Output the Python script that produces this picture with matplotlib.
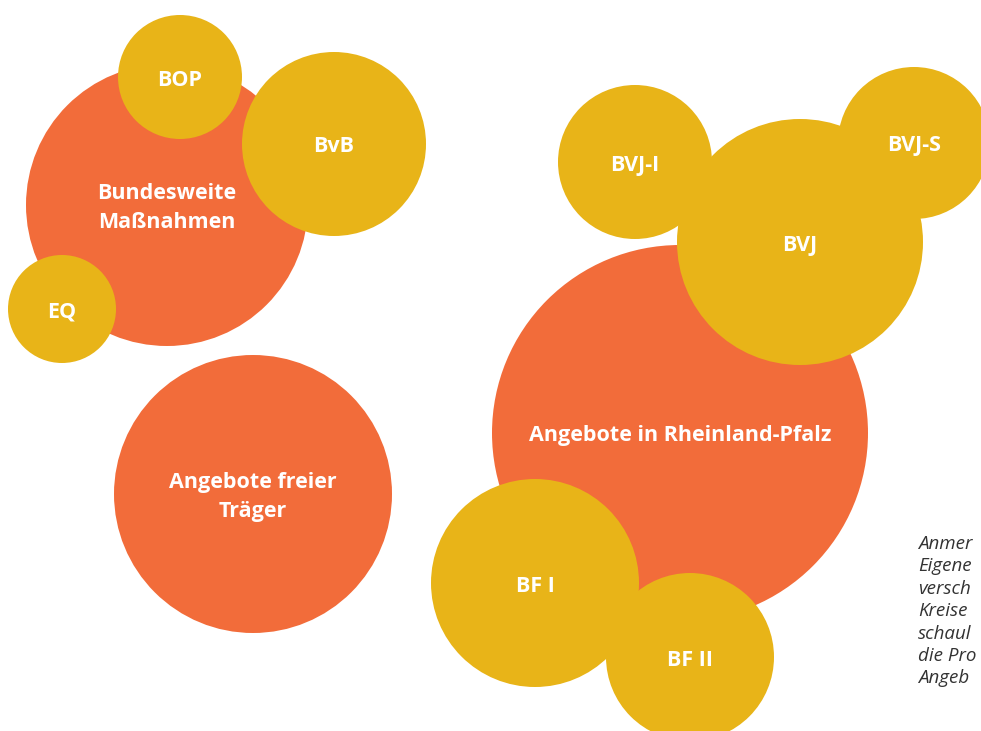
import matplotlib.pyplot as plt
from matplotlib.patches import Circle

# circles: label, centre x, centre y, radius (pixel units of the picture), group
labels = ["Bundesweite\nMaßnahmen", "Angebote freier\nTräger", "Angebote in Rheinland-Pfalz",
          "BOP", "BvB", "EQ", "BVJ-I", "BVJ", "BVJ-S", "BF I", "BF II"]
cx = [167, 253, 680, 180, 334, 62, 635, 800, 914, 535, 690]
cy = [205, 494, 433, 77, 144, 309, 162, 242, 143, 583, 657]
rad = [141, 139, 188, 62, 92, 54, 77, 123, 76, 104, 84]
group = ["main", "main", "main", "sub", "sub", "sub", "sub", "sub", "sub", "sub", "sub"]

# note at the right edge, only the part visible in the picture
note = ["Anmer", "Eigene", "versch", "Kreise", "schaul", "die Pro", "Angeb"]

colors = {"main": "#F26C3A", "sub": "#E8B418"}

fig = plt.figure(figsize=(9.81, 7.31), dpi=100)
ax = fig.add_axes([0, 0, 1, 1])
ax.set_xlim(0, 981)
ax.set_ylim(731, 0)
ax.set_aspect("equal")
ax.axis("off")

for i in range(len(labels)):
    z = 1 if group[i] == "main" else 2
    ax.add_patch(Circle((cx[i], cy[i]), rad[i], color=colors[group[i]], lw=0, zorder=z))
    ax.text(cx[i], cy[i] + 3, labels[i], ha="center", va="center", color="white",
            fontsize=15.5, fontweight="bold", family="Open Sans", linespacing=1.55, zorder=3)

for k, line in enumerate(note):
    ax.text(918, 544 + k * 22.4, line, ha="left", va="center", color="#333333",
            fontsize=13.5, style="italic", family="Open Sans")

fig.savefig("out.png", dpi=100)
